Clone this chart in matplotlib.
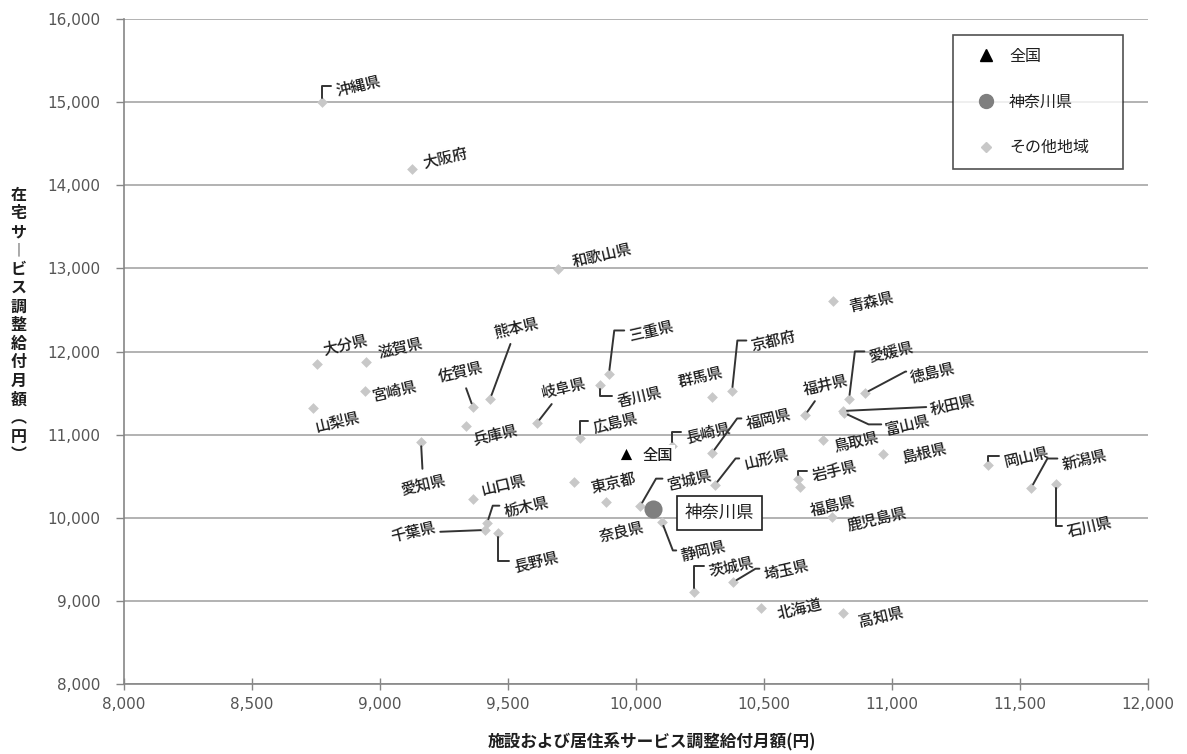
import matplotlib
matplotlib.use('Agg')
import matplotlib.pyplot as plt
from matplotlib.lines import Line2D
from matplotlib.ticker import FuncFormatter, MultipleLocator

plt.rcParams['font.family'] = ['Noto Sans CJK JP', 'DejaVu Sans']

# x: 施設および居住系サービス調整給付月額(円), y: 在宅サービス調整給付月額(円)
prefs = ['沖縄県', '大阪府', '和歌山県', '大分県', '滋賀県', '宮崎県', '山梨県', '佐賀県',
         '熊本県', '兵庫県', '岐阜県', '香川県', '三重県', '広島県', '愛知県', '山口県',
         '東京都', '奈良県', '宮城県', '静岡県', '長崎県', '福岡県', '山形県', '群馬県',
         '京都府', '青森県', '福井県', '愛媛県', '徳島県', '秋田県', '富山県', '鳥取県',
         '島根県', '岩手県', '福島県', '鹿児島県', '茨城県', '埼玉県', '北海道', '高知県',
         '岡山県', '新潟県', '石川県', '千葉県', '栃木県', '長野県']
facility = [8773, 9125, 9695, 8754, 8945, 8941, 8738, 9363,
            9430, 9336, 9613, 9859, 9894, 9781, 9160, 9363,
            9758, 9883, 10016, 10101, 10140, 10297, 10308, 10297,
            10375, 10769, 10660, 10832, 10894, 10808, 10812, 10730,
            10965, 10633, 10640, 10765, 10226, 10379, 10488, 10808,
            11375, 11543, 11640, 9410, 9418, 9461]
home = [15000, 14195, 12990, 11850, 11875, 11525, 11320, 11330,
        11430, 11105, 11140, 11595, 11730, 10960, 10910, 10225,
        10430, 10190, 10140, 9950, 10860, 10780, 10395, 11455,
        11525, 12610, 11235, 11430, 11500, 11285, 11262, 10935,
        10765, 10465, 10370, 10010, 9105, 9225, 8915, 8855,
        10635, 10358, 10405, 9853, 9935, 9815]

national_x, national_y = [9961], [10765]
kanagawa_x, kanagawa_y = [10066], [10105]

# label offset in pixels (dx, dy) and leader: None, 'line' or angle of the bracket leg
label_pos = {
    '沖縄県': (14, 10, 90), '大阪府': (11, 6, None), '和歌山県': (14, 7, None),
    '大分県': (6, 14, None), '滋賀県': (12, 9, None), '宮崎県': (8, -6, None),
    '山梨県': (2, -20, None), '佐賀県': (-35, 30, 'line'), '熊本県': (4, 66, 'line'),
    '兵庫県': (7, -14, None), '岐阜県': (5, 30, 'line'), '香川県': (17, -17, 90),
    '三重県': (20, 37, 83), '広島県': (13, 10, 90), '愛知県': (-20, -48, 'line'),
    '山口県': (8, 8, None), '東京都': (17, -7, None), '奈良県': (-7, -36, None),
    '宮城県': (27, 21, 60), '静岡県': (19, -35, -69), '長崎県': (14, 8, 90),
    '福岡県': (34, 28, 54), '山形県': (29, 20, 52), '群馬県': (-34, 14, None),
    '京都府': (19, 44, 84), '青森県': (16, -7, None), '福井県': (-1, 25, 'line'),
    '愛媛県': (20, 41, 83), '徳島県': (46, 15, 28), '秋田県': (88, 0, 'line'),
    '富山県': (42, -18, -25), '鳥取県': (11, -8, None), '島根県': (19, -4, None),
    '岩手県': (14, 2, 90), '福島県': (11, -25, None), '鹿児島県': (15, -10, None),
    '茨城県': (15, 20, 90), '埼玉県': (31, 7, 31), '北海道': (16, -7, None),
    '高知県': (16, -9, None), '岡山県': (16, 2, 90), '新潟県': (31, 23, 61),
    '石川県': (11, -48, 90), '千葉県': (-94, -8, 'line'), '栃木県': (17, 11, 72),
    '長野県': (16, -34, 90),
}

TXT = '#1e1e1e'
LEAD = '#333333'
GRAY = '#555555'

fig = plt.figure(figsize=(11.87, 7.54), dpi=100)
ax = fig.add_axes([0.1045, 0.0928, 0.8627, 0.8820])

ax.scatter(facility, home, marker='D', s=30, color='#c8c8c8', zorder=3, linewidths=0)
ax.scatter(national_x, national_y, marker='^', s=65, color='black', zorder=4, linewidths=0)
ax.scatter(kanagawa_x, kanagawa_y, marker='o', s=170, color='#7f7f7f', zorder=4, linewidths=0)

for name, x, y in zip(prefs, facility, home):
    dx, dy, lead = label_pos[name]
    kw = {}
    if lead == 'line':
        kw['arrowprops'] = dict(arrowstyle='-', color=LEAD, lw=1.4, shrinkA=0, shrinkB=3)
    elif lead is not None:
        kw['arrowprops'] = dict(arrowstyle='-', color=LEAD, lw=1.4, shrinkA=0, shrinkB=3,
                                relpos=(0, 0.55),
                                connectionstyle=f'angle,angleA=0,angleB={lead},rad=0')
    ax.annotate(name, (x, y), xytext=(dx, dy), textcoords='offset pixels',
                rotation=13, rotation_mode='anchor', ha='left', va='center',
                fontsize=11, fontweight='medium', color=TXT, zorder=5, **kw)

ax.annotate('全国', (national_x[0], national_y[0]), xytext=(17, -1), textcoords='offset pixels',
            ha='left', va='center', fontsize=11, fontweight='medium', color=TXT, zorder=6,
            bbox=dict(boxstyle='square,pad=0.1', fc='white', ec='none'))
ax.annotate('神奈川県', (kanagawa_x[0], kanagawa_y[0]), xytext=(32, -4), textcoords='offset pixels',
            ha='left', va='center', fontsize=12.5, color=TXT, zorder=5,
            bbox=dict(boxstyle='square,pad=0.45', fc='white', ec=TXT, lw=1.2))

ax.set_xlim(8000, 12000)
ax.set_ylim(8000, 16000)
ax.xaxis.set_major_locator(MultipleLocator(500))
ax.yaxis.set_major_locator(MultipleLocator(1000))
fmt = FuncFormatter(lambda v, p: f'{v:,.0f}')
ax.xaxis.set_major_formatter(fmt)
ax.yaxis.set_major_formatter(fmt)
for lab in ax.get_xticklabels() + ax.get_yticklabels():
    lab.set_family('DejaVu Sans')
ax.tick_params(axis='y', direction='out', length=6, width=1, color='#868686',
               labelsize=11, labelcolor=GRAY, pad=11)
ax.tick_params(axis='x', direction='inout', length=8, width=1, color='#868686',
               labelsize=11, labelcolor=GRAY, pad=5)

ax.yaxis.grid(True, color='#a6a6a6', lw=1.2)
ax.set_axisbelow(True)
for s in ['top', 'right']:
    ax.spines[s].set_visible(False)
for s in ['left', 'bottom']:
    ax.spines[s].set_color('#868686')
    ax.spines[s].set_linewidth(1.2)

fig.text(0.549, 0.016, '施設および居住系サービス調整給付月額(円)', ha='center', va='center',
         fontsize=12, fontweight='bold', color=TXT)
ylab = ['在', '宅', 'サ', '︱', 'ビ', 'ス', '調', '整', '給', '付', '月', '額', '︵', '円', '︶']
fig.text(0.0155, 1 - 325 / 754, '\n'.join(ylab), ha='center', va='center',
         fontsize=11.5, fontweight='bold', color=TXT, linespacing=1.2)

handles = [
    Line2D([], [], marker='^', ls='', color='black', markersize=8),
    Line2D([], [], marker='o', ls='', color='#7f7f7f', markersize=10),
    Line2D([], [], marker='D', ls='', color='#c8c8c8', markersize=5),
]
leg = ax.legend(handles, ['全国', '神奈川県', 'その他地域'], loc='upper left',
                bbox_to_anchor=(0.8096, 0.776, 0.166, 0.2), mode='expand', borderaxespad=0,
                fontsize=11.5, frameon=True, fancybox=False, labelspacing=1.8,
                borderpad=0.8, handlelength=2.5, handletextpad=0.2)
leg.get_frame().set_edgecolor('#262626')
leg.get_frame().set_linewidth(1.2)
for t in leg.get_texts():
    t.set_color(TXT)

fig.savefig('out.png', dpi=100)
